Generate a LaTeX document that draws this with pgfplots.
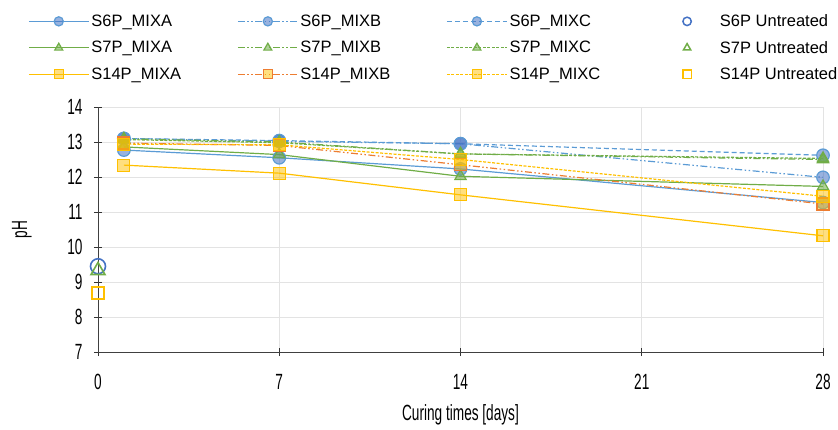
\documentclass[border=0pt]{standalone}
\usepackage{fontspec}
\setmainfont{Liberation Sans}
\newfontfamily\narrowfont[FakeStretch=0.62]{Liberation Sans}
\usepackage{pgfplots}
\pgfplotsset{compat=1.18}

\definecolor{sixline}{HTML}{5B9BD5}
\definecolor{sixmark}{HTML}{4472C4}
\definecolor{sevline}{HTML}{70AD47}
\definecolor{ftline}{HTML}{FFC000}
\definecolor{ftorange}{HTML}{ED7D31}

\begin{document}
\begin{tikzpicture}
\begin{axis}[
    scale only axis,
    width=725pt, height=245pt,
    xmin=0, xmax=28, ymin=7, ymax=14,
    xtick={0,7,14,21,28}, ytick={7,8,...,14},
    axis lines=left,
    axis line style={-, black!75, line width=0.8pt},
    tick style={black!80, line width=0.8pt},
    tick align=center, major tick length=8pt,
    grid=major, grid style={gray!22, line width=0.8pt},
    /pgf/number format/assume math mode=true,
    tick label style={font=\fontsize{22}{22}\selectfont\narrowfont},
    label style={font=\fontsize{22}{22}\selectfont\narrowfont},
    yticklabel style={xshift=-8pt},
    xticklabel style={yshift=-15pt},
    xlabel={Curing times [days]}, ylabel={pH},
    xlabel style={at={(0.5,-0.255)}, anchor=center},
    ylabel style={at={(-0.105,0.5)}, anchor=center},
    clip=false,
    legend columns=4,
    legend cell align=left,
    legend style={draw=none, fill=none, inner sep=0pt,
        at={(-0.0966,1.386)}, anchor=north west,
        font=\fontsize{16.5}{16.5}\selectfont,
        row sep=9pt,
        /tikz/every even column/.append style={column sep=54pt}},
    legend image code/.code={
        \draw[mark repeat=2, mark phase=2, #1, mark size=4.6pt]
        plot coordinates {(0pt,0pt) (30pt,0pt) (60pt,0pt)};},
    every axis plot/.append style={line width=1.2pt},
    mixb/.style={dash pattern=on 7pt off 2.5pt on 1.5pt off 2.5pt on 1.5pt off 2.5pt},
    untreated/.style={only marks,
        legend image code/.code={
            \path (0pt,0pt) (60pt,0pt);
            \draw[##1, mark size=4.2pt, line width=1.5pt]
            plot coordinates {(30pt,0pt)};}},
]
\coordinate (O) at (rel axis cs:0,0);

% row 1: S6P
\addplot[sixline, mark=*, mark size=6.3pt,
    mark options={solid, draw=none, fill=sixmark, fill opacity=0.55}]
    coordinates {(1,12.77)(7,12.55)(14,12.23)(28,11.27)};
\addlegendentry{S6P\_MIXA}
\addplot[sixline, mixb, mark=*, mark size=6.3pt,
    mark options={solid, draw=none, fill=sixmark, fill opacity=0.55}]
    coordinates {(1,13.10)(7,13.02)(14,12.95)(28,11.99)};
\addlegendentry{S6P\_MIXB}
\addplot[sixline, dash pattern=on 5pt off 3pt, mark=*, mark size=6.3pt,
    mark options={solid, draw=none, fill=sixmark, fill opacity=0.55}]
    coordinates {(1,13.10)(7,13.04)(14,12.95)(28,12.62)};
\addlegendentry{S6P\_MIXC}
\addplot[untreated, mark=o, mark size=7.5pt, sixmark, line width=1.6pt]
    coordinates {(0,9.45)};
\addlegendentry{S6P Untreated}

% row 2: S7P
\addplot[sevline, mark=triangle*, mark size=6.5pt,
    mark options={solid, draw=none, fill=sevline, fill opacity=0.55}]
    coordinates {(1,12.86)(7,12.64)(14,12.02)(28,11.73)};
\addlegendentry{S7P\_MIXA}
\addplot[sevline, mixb, mark=triangle*, mark size=6.5pt,
    mark options={solid, draw=none, fill=sevline, fill opacity=0.55}]
    coordinates {(1,13.09)(7,13.00)(14,12.66)(28,12.50)};
\addlegendentry{S7P\_MIXB}
\addplot[sevline, dash pattern=on 3pt off 1.5pt, mark=triangle*, mark size=6.5pt,
    mark options={solid, draw=none, fill=sevline, fill opacity=0.55}]
    coordinates {(1,13.07)(7,12.98)(14,12.66)(28,12.53)};
\addlegendentry{S7P\_MIXC}
\addplot[untreated, mark=triangle, mark size=8pt, sevline, line width=1.6pt]
    coordinates {(0,9.33)};
\addlegendentry{S7P Untreated}

% row 3: S14P
\addplot[ftline, mark=square*, mark size=6pt,
    mark options={solid, draw=none, fill=ftline, fill opacity=0.5}]
    coordinates {(1,12.34)(7,12.11)(14,11.49)(28,10.32)};
\addlegendentry{S14P\_MIXA}
\addplot[ftorange, mixb, mark=square*, mark size=6pt,
    mark options={solid, draw=none, fill=ftline, fill opacity=0.5}]
    coordinates {(1,12.97)(7,12.90)(14,12.35)(28,11.23)};
\addlegendentry{S14P\_MIXB}
\addplot[ftline, dash pattern=on 3pt off 1.5pt, mark=square*, mark size=6pt,
    mark options={solid, draw=none, fill=ftline, fill opacity=0.5}]
    coordinates {(1,12.94)(7,12.92)(14,12.50)(28,11.45)};
\addlegendentry{S14P\_MIXC}
\addplot[untreated, mark=square, mark size=6pt, ftline, line width=1.6pt]
    coordinates {(0,8.68)};
\addlegendentry{S14P Untreated}
\end{axis}
\pgfresetboundingbox
\path (O) ++(-98pt,-77pt) rectangle ++(838pt,429pt);
\end{tikzpicture}
\end{document}
